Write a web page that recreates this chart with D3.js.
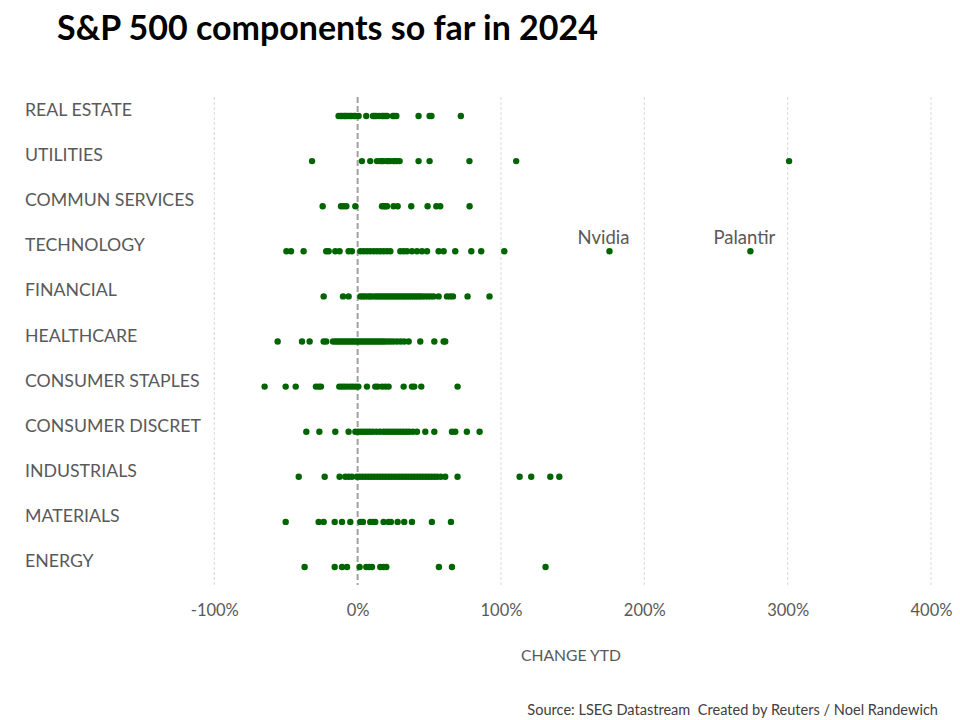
<!DOCTYPE html>
<html>
<head>
<meta charset="utf-8">
<script src="https://cdn.jsdelivr.net/npm/d3@7"></script>
<style>
  html, body { margin: 0; padding: 0; background: #fff; }
  svg { display: block; }
  text { white-space: pre; }
</style>
</head>
<body>
<svg id="chart" width="960" height="720"></svg>
<script>
// ---- DATA (YTD % change by component) ----
const categories = ["REAL ESTATE", "UTILITIES", "COMMUN SERVICES", "TECHNOLOGY", "FINANCIAL",
  "HEALTHCARE", "CONSUMER STAPLES", "CONSUMER DISCRET", "INDUSTRIALS", "MATERIALS", "ENERGY"];

const realEstate = [-13.3, -12, -10.9, -9.5, -8.6, -7.5, -6.3, -5, -4, -2.5, -1.6, 0.7, 6, 10.7, 12, 13,
  15, 17, 18, 19.3, 20.5, 24.6, 25.5, 27, 42.5, 50.2, 51.5, 72];
const utilities = [-31.8, 3, 8.8, 13.5, 15.8, 17, 18.1, 20.5, 21.5, 22.8, 25.1, 26, 27.4, 29.3, 42.5,
  50.2, 78, 110.6, 301];
const communServices = [-24.4, -11.6, -9.8, -7.9, -1.6, 17, 18.5, 19.3, 20.5, 25.1, 27.9, 37.4, 48.8,
  54.9, 57.6, 78.1];
const technology = [-49.7, -46.5, -37.7, -21.9, -20.2, -15.6, -12.6, -6.3, -4, 1.9, 4.2, 6.5, 8.8, 11.2,
  13.5, 15.8, 18.1, 20.5, 22.8, 29.8, 32.1, 34.4, 37.9, 41.4, 44.9, 48.4, 56.5, 60, 68.1, 79.3, 86.2,
  102.3, 175.7, 274];
const financial = [-23.7, -10.2, -6.3, 1.9, 3.5, 5, 7, 8.5, 10, 12, 13.5, 15, 16.5, 18, 19.5, 21, 22.5,
  24, 25.5, 27, 28.5, 30, 31.5, 33, 34.5, 36, 37.5, 39, 40.5, 42, 43.5, 45, 47, 49, 51, 53, 56.5, 62.3,
  64.6, 66.5, 76.7, 92];
const healthcare = [-55.8, -38.8, -33.5, -23.7, -21.9, -17.2, -15.5, -14, -12.5, -11, -9.5, -8, -6.5, -5,
  -3.5, -2, -0.5, 1, 2.5, 4, 5.5, 7, 8.5, 10, 11.5, 13, 14.5, 16, 17.5, 19, 21, 23, 25, 27.5, 30, 32.5,
  35.6, 43.7, 53.5, 60, 61.1];
const consumerStaples = [-64.9, -50.2, -43.2, -29.1, -27.2, -25.6, -12.8, -10.9, -9.1, -7.2, -5.1, -3.3,
  -1.4, 0.5, 6.5, 12.3, 14, 17, 19.3, 21.6, 32.1, 37.9, 39.5, 44.4, 69.7];
const consumerDiscret = [-35.8, -26.7, -15.6, -6.3, -1.6, 0.5, 2.5, 4.5, 6.5, 8.5, 10.5, 13, 15.5, 18, 20,
  22, 24, 26, 28, 30, 32, 34, 36, 38.5, 41.4, 47.2, 53.5, 65.8, 68.1, 76.2, 85.1];
const industrials = [-41.1, -23, -12.6, -8.6, -6.3, -4, -0.5, 1.5, 3.5, 5.5, 7.5, 9.5, 11.5, 13.5, 15.5,
  17.5, 19.5, 21.5, 23.5, 25.5, 27.5, 29.5, 31.5, 33.5, 35.5, 37.5, 39.5, 41.5, 43.5, 45.5, 47.5, 49.5,
  51.5, 53.5, 55.5, 58, 61.1, 69.7, 113, 121.1, 134.4, 140.7];
const materials = [-50.2, -27.2, -23.7, -16, -10.9, -5.1, 1.9, 3.7, 8.8, 10.7, 12.3, 18.1, 21.6, 23.2,
  27.9, 32.5, 37.9, 51.8, 65.1];
const energy = [-37, -16, -10.9, -7.4, 1.4, 6, 7.9, 10, 15.8, 18.1, 20, 56.7, 65.8, 131.1];

const seriesValues = [realEstate, utilities, communServices, technology, financial, healthcare,
  consumerStaples, consumerDiscret, industrials, materials, energy];

const xTicks = [-100, 0, 100, 200, 300, 400];
const annotations = [
  { category: "TECHNOLOGY", value: 175.7, label: "Nvidia" },
  { category: "TECHNOLOGY", value: 274, label: "Palantir" }
];

// ---- CHART ----
const svg = d3.select("#chart");
const FONT = "Lato, 'Open Sans', sans-serif";
const GRAY = "#595959";
const DOT = "#006400";

const x = d3.scaleLinear().domain([-100, 400]).range([214.3, 931]);
const y = d3.scalePoint().domain(categories).range([116, 567]);

const gridTop = 97, gridBottom = 585;

function fitWidth(sel, base, target) {
  const w = sel.node().getComputedTextLength();
  sel.attr("font-size", base * target / w);
}

// gridlines
svg.append("g").selectAll("line")
  .data(xTicks.filter(d => d !== 0))
  .join("line")
  .attr("x1", d => x(d)).attr("x2", d => x(d))
  .attr("y1", gridTop).attr("y2", gridBottom)
  .attr("stroke", "#d9d9d9").attr("stroke-width", 1)
  .attr("stroke-dasharray", "3,2");

// zero line
svg.append("line")
  .attr("x1", x(0)).attr("x2", x(0))
  .attr("y1", gridTop).attr("y2", gridBottom)
  .attr("stroke", "#a0a0a0").attr("stroke-width", 2)
  .attr("stroke-dasharray", "6,3");

// dots
const points = [];
categories.forEach((c, i) => seriesValues[i].forEach(v => points.push({ c, v })));
svg.append("g").selectAll("circle")
  .data(points)
  .join("circle")
  .attr("cx", d => x(d.v))
  .attr("cy", d => y(d.c))
  .attr("r", 3.2)
  .attr("fill", DOT);

// category labels
const catLabels = svg.append("g").selectAll("text")
  .data(categories)
  .join("text")
  .attr("x", 25)
  .attr("y", d => y(d))
  .attr("fill", GRAY)
  .attr("font-family", FONT)
  .attr("font-size", 16)
  .text(d => d);
(function () {
  const node = catLabels.filter(d => d === "CONSUMER DISCRET").node();
  const w = node.getComputedTextLength();
  catLabels.attr("font-size", 16 * 176 / w);
})();

// x axis
const xAxis = d3.axisBottom(x)
  .tickValues(xTicks)
  .tickFormat(d => d + "%")
  .tickSize(0)
  .tickPadding(10);
const axG = svg.append("g").attr("transform", "translate(0,594)").call(xAxis);
axG.select(".domain").remove();
axG.selectAll("text")
  .attr("fill", GRAY)
  .attr("font-family", FONT)
  .attr("font-size", 16.5);

// axis title
const axTitle = svg.append("text")
  .attr("x", 571).attr("y", 661)
  .attr("text-anchor", "middle")
  .attr("fill", GRAY)
  .attr("font-family", FONT)
  .attr("font-size", 15)
  .text("CHANGE YTD");
fitWidth(axTitle, 15, 100);

// annotations
svg.append("g").selectAll("text")
  .data(annotations)
  .join("text")
  .attr("x", d => x(d.value) - 6)
  .attr("y", d => y(d.category) - 7)
  .attr("text-anchor", "middle")
  .attr("fill", GRAY)
  .attr("font-family", FONT)
  .attr("font-size", 18.5)
  .text(d => d.label);

// title
const title = svg.append("text")
  .attr("x", 57).attr("y", 40)
  .attr("fill", "#000")
  .attr("font-family", FONT)
  .attr("font-weight", "bold")
  .attr("font-size", 28)
  .text("S&P 500 components so far in 2024");
fitWidth(title, 28, 541);

// source
const source = svg.append("text")
  .attr("x", 938).attr("y", 715)
  .attr("text-anchor", "end")
  .attr("fill", "#404040")
  .attr("font-family", FONT)
  .attr("font-size", 13)
  .text("Source: LSEG Datastream  Created by Reuters / Noel Randewich");
fitWidth(source, 13, 411);
</script>
</body>
</html>
